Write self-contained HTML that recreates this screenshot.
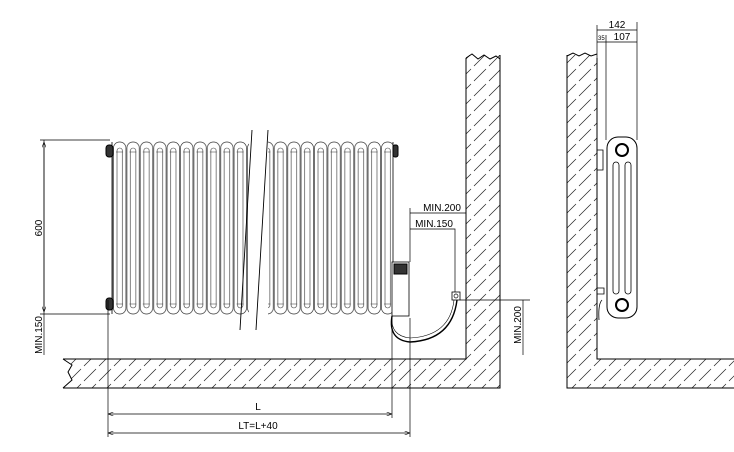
<!DOCTYPE html>
<html><head><style>html,body{margin:0;padding:0;background:#fff}svg{display:block}</style></head><body>
<svg width="734" height="452" viewBox="0 0 734 452" xmlns="http://www.w3.org/2000/svg" font-family="Liberation Sans, sans-serif" font-size="10">
<defs>
<pattern id="h" width="15" height="15" patternUnits="userSpaceOnUse">
<path d="M0 15 L6 9 M9 6 L15 0 M-3 3 L3 -3 M12 18 L18 12" stroke="#222" stroke-width="0.7"/>
</pattern>
<pattern id="col" x="113" y="140" width="13.4" height="180" patternUnits="userSpaceOnUse">
<rect x="0.5" y="2" width="12.4" height="172" rx="6" fill="none" stroke="#333" stroke-width="0.7"/>
<rect x="4" y="8" width="5.4" height="160" rx="2.7" fill="none" stroke="#333" stroke-width="0.6"/>
<path d="M3 12 h7 M3 164 h7" stroke="#333" stroke-width="0.6"/>
</pattern>
<marker id="a" markerWidth="8" markerHeight="6" refX="8" refY="3" orient="auto-start-reverse"><path d="M0 0 L8 3 L0 6" fill="none" stroke="#000" stroke-width="0.8"/></marker>
</defs>
<g fill="none" stroke="#000" stroke-width="1">
<rect x="68" y="359" width="432" height="29" fill="url(#h)" stroke="none"/>
<rect x="466" y="55" width="34" height="304" fill="url(#h)" stroke="none"/>
<path d="M63 359 H466 V58 M63 388 H500 V55"/>
<path d="M63 359 L72 365 L68 372 L72 380 L63 388" fill="#fff"/>
<path d="M466 58 l6 -4 l6 5 l6 -4 l6 4 l6 -3 l4 3"/>
<rect x="112" y="140" width="137" height="176" fill="url(#col)" stroke="none"/>
<rect x="268" y="140" width="125" height="176" fill="url(#col)" stroke="none"/>
<path d="M112 142 V314 M393 142 V314" stroke-width="0.8"/>
<path d="M252 130 L240 330 M268 130 L256 330" stroke-width="0.9"/>
<rect x="106" y="145" width="7" height="12" rx="3" fill="#333"/>
<rect x="106" y="298" width="7" height="12" rx="3" fill="#333"/>
<rect x="393" y="145" width="5" height="12" rx="2" fill="#333"/>
<path d="M40 140 H110 M40 314 H110 M44 140 V355" stroke-width="0.7"/>
<path d="M44 142 V312" stroke-width="0.7" marker-start="url(#a)" marker-end="url(#a)"/>
<path d="M108 300 V437 M392 318 V418 M410 318 V437" stroke-width="0.7"/>
<path d="M108 414 H392" stroke-width="0.7" marker-start="url(#a)" marker-end="url(#a)"/>
<path d="M108 433 H410" stroke-width="0.7" marker-start="url(#a)" marker-end="url(#a)"/>
<rect x="392" y="262" width="17" height="54" fill="#fff" stroke-width="0.8"/>
<rect x="394" y="264" width="13" height="10" fill="#333"/>
<path d="M392 316 Q388 340 410 342 Q452 340 457 300" stroke-width="1.4"/>
<path d="M392 316 Q390 336 410 338 Q450 336 454 300" stroke-width="0.6"/>
<rect x="452" y="292" width="8" height="8" stroke-width="0.8"/>
<circle cx="456" cy="296" r="2" stroke-width="0.7"/>
<path d="M410 213 H466 M410 208 V262 M410 229 H455 V292 M460 300 H530 M523 300 V355" stroke-width="0.7"/>
<rect x="567" y="55" width="30" height="333" fill="url(#h)" stroke="none"/>
<rect x="597" y="359" width="137" height="29" fill="url(#h)" stroke="none"/>
<path d="M567 55 V388 H734 M597 58 V359 H734"/>
<path d="M567 56 l6 -3 l6 3 l6 -3 l6 3 l6 -2"/>
<path d="M597 25 V140 M606 35 V140 M637 22 V140" stroke-width="0.7"/>
<path d="M597 30 H637 M606 42 H637 M597 42 H606" stroke-width="0.7"/>
<rect x="607" y="137" width="30" height="181" rx="11" fill="#fff"/>
<circle cx="622" cy="150" r="6" stroke-width="2"/>
<circle cx="622" cy="305" r="6" stroke-width="2"/>
<rect x="613" y="162" width="6" height="132" rx="3" stroke-width="0.8"/>
<rect x="625" y="162" width="6" height="132" rx="3" stroke-width="0.8"/>
<path d="M597 150 h6 v20 h-6 M597 288 h7 v6 h-7 M602 300 q-4 4 -3 20" stroke-width="0.8"/>
</g>
<g fill="#000">
<text x="258" y="410" text-anchor="middle">L</text>
<text x="258" y="429" text-anchor="middle">LT=L+40</text>
<text x="442" y="211" text-anchor="middle">MIN.200</text>
<text x="434" y="227" text-anchor="middle">MIN.150</text>
<text transform="translate(42 228) rotate(-90)" text-anchor="middle">600</text>
<text transform="translate(42 335) rotate(-90)" text-anchor="middle">MIN.150</text>
<text transform="translate(521 325) rotate(-90)" text-anchor="middle">MIN.200</text>
<text x="617" y="28" text-anchor="middle">142</text>
<text x="622" y="40" text-anchor="middle">107</text>
<text x="598" y="40" font-size="6">35</text>
</g>
</svg>
</body></html>
